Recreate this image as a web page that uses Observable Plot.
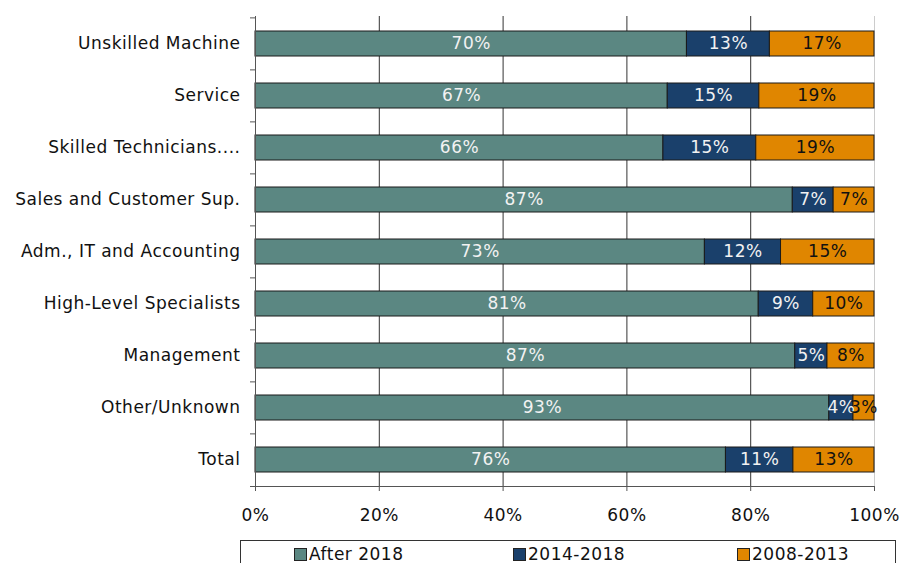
<!DOCTYPE html>
<html>
<head>
<meta charset="utf-8">
<script src="https://cdn.jsdelivr.net/npm/d3@7"></script>
<script src="https://cdn.jsdelivr.net/npm/@observablehq/plot@0.6"></script>
<style>
  html, body { margin: 0; padding: 0; background: #fff; }
  #wrap { position: relative; width: 902px; height: 563px; overflow: hidden; font-family: "DejaVu Sans", Verdana, sans-serif; }
  #legend { position: absolute; left: 240px; top: 540px; width: 656px; height: 40px; border: 1px solid #333; box-sizing: border-box; font-size: 17px; letter-spacing: 0.5px; color: #111; }
  .item { position: absolute; top: 3px; display: flex; align-items: center; }
  .sw { width: 11px; height: 11px; border: 1px solid #222; margin-right: 2px; }
</style>
</head>
<body>
<div id="wrap">
  <div id="chart"></div>
  <div id="legend"></div>
</div>
<script>
const categories = [
  "Unskilled Machine",
  "Service",
  "Skilled Technicians....",
  "Sales and Customer Sup.",
  "Adm., IT and Accounting",
  "High-Level Specialists",
  "Management",
  "Other/Unknown",
  "Total"
];
const seriesNames = ["After 2018", "2014-2018", "2008-2013"];
const seriesColors = ["#5b8782", "#1a406b", "#e08600"];
const after2018 = [69.7, 66.6, 65.9, 86.8, 72.6, 81.3, 87.2, 92.7, 76.0];
const y2014_2018 = [13.4, 14.8, 15.0, 6.6, 12.3, 8.8, 5.2, 3.9, 10.9];
const y2008_2013 = [16.9, 18.6, 19.1, 6.6, 15.1, 9.9, 7.6, 3.4, 13.1];
const xTicks = [0, 20, 40, 60, 80, 100];

const seriesValues = [after2018, y2014_2018, y2008_2013];
const data = [];
categories.forEach((c, i) => {
  seriesNames.forEach((s, j) => {
    data.push({cat: c, series: s, value: seriesValues[j][i]});
  });
});

const W = 902, H = 532, mt = 16, mb = 46, ml = 255, mr = 28;
const step = (H - mt - mb) / categories.length;

const chart = Plot.plot({
  width: W,
  height: H,
  marginTop: mt,
  marginBottom: mb,
  marginLeft: ml,
  marginRight: mr,
  style: {fontFamily: "DejaVu Sans, Verdana, sans-serif", fontSize: "17px", letterSpacing: "0.5px", color: "#111", background: "#fff"},
  x: {domain: [0, 100], label: null},
  y: {domain: categories, paddingInner: 0.52, paddingOuter: 0.26, label: null},
  color: {domain: seriesNames, range: seriesColors},
  marks: [
    Plot.ruleX([20, 40, 60, 80], {stroke: "#333", strokeWidth: 1}),
    Plot.ruleX([100], {stroke: "#ccc", strokeWidth: 1}),
    Plot.barX(data, {x: "value", y: "cat", fill: "series", order: seriesNames, stroke: "#1a1a1a", strokeWidth: 1}),
    Plot.text(data, Plot.stackX({x: "value", y: "cat", z: "series", order: seriesNames,
      text: d => d.series === "2008-2013" ? "" : Math.round(d.value) + "%", fill: "#f2f2f2"})),
    Plot.text(data, Plot.stackX({x: "value", y: "cat", z: "series", order: seriesNames,
      text: d => d.series === "2008-2013" ? Math.round(d.value) + "%" : "", fill: "#111"})),
    Plot.ruleX([0], {stroke: "#555"}),
    Plot.frame({anchor: "bottom", stroke: "#555", insetLeft: -5}),
    Plot.axisY({tickSize: 0, tickPadding: 15, fill: "#111", label: null}),
    Plot.axisY({tickSize: 5, text: null, dy: -step / 2, stroke: "#555", label: null}),
    Plot.axisX({ticks: xTicks, tickFormat: d => d + "%", tickSize: 5, tickPadding: 17, stroke: "#555", fill: "#111", label: null})
  ]
});
document.getElementById("chart").appendChild(chart);

const legend = document.getElementById("legend");
const lefts = [53, 272, 496];
seriesNames.forEach((s, j) => {
  const it = document.createElement("div");
  it.className = "item";
  it.style.left = lefts[j] + "px";
  const sw = document.createElement("span");
  sw.className = "sw";
  sw.style.background = seriesColors[j];
  const t = document.createElement("span");
  t.textContent = s;
  it.appendChild(sw);
  it.appendChild(t);
  legend.appendChild(it);
});
</script>
</body>
</html>
